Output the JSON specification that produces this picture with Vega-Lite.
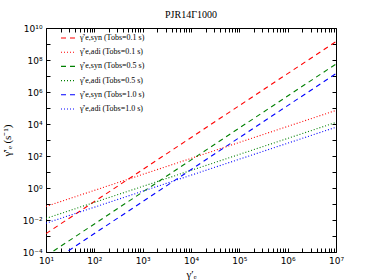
{
  "$schema": "https://vega.github.io/schema/vega-lite/v6.json",
  "width": 290,
  "height": 224,
  "autosize": {"type": "none"},
  "padding": {"left": 46, "top": 28, "right": 38, "bottom": 28},
  "title": {"text": "PJR14Γ1000", "font": "Liberation Serif", "fontSize": 10, "fontWeight": "normal", "offset": 4, "color": "black"},
  "config": {
    "view": {"stroke": "black", "strokeWidth": 1},
    "axis": {
      "domain": false,
      "grid": false,
      "tickColor": "black",
      "tickSize": -4,
      "labelPadding": 8,
      "labelFont": "DejaVu Sans",
      "labelFontSize": 9,
      "labelColor": "black",
      "labelOverlap": false,
      "labelFlush": false,
      "titleFont": "Liberation Serif",
      "titleFontSize": 11,
      "titleFontWeight": "normal",
      "titleColor": "black"
    }
  },
  "data": {
    "values": [
      {"g": 10, "r": 0.001413, "s": "γ̇′e,syn (Tobs=0.1 s)"},
      {"g": 10000000, "r": 1413000000, "s": "γ̇′e,syn (Tobs=0.1 s)"},
      {"g": 10, "r": 0.0708, "s": "γ̇′e,adi (Tobs=0.1 s)"},
      {"g": 10000000, "r": 70800, "s": "γ̇′e,adi (Tobs=0.1 s)"},
      {"g": 10, "r": 0.0000562, "s": "γ̇′e,syn (Tobs=0.5 s)"},
      {"g": 10000000, "r": 56200000, "s": "γ̇′e,syn (Tobs=0.5 s)"},
      {"g": 10, "r": 0.01259, "s": "γ̇′e,adi (Tobs=0.5 s)"},
      {"g": 10000000, "r": 12590, "s": "γ̇′e,adi (Tobs=0.5 s)"},
      {"g": 10, "r": 0.0000141, "s": "γ̇′e,syn (Tobs=1.0 s)"},
      {"g": 10000000, "r": 14100000, "s": "γ̇′e,syn (Tobs=1.0 s)"},
      {"g": 10, "r": 0.00631, "s": "γ̇′e,adi (Tobs=1.0 s)"},
      {"g": 10000000, "r": 6310, "s": "γ̇′e,adi (Tobs=1.0 s)"}
    ]
  },
  "layer": [
    {
      "mark": {"type": "line", "clip": true, "strokeWidth": 1.1},
      "encoding": {
        "x": {
          "field": "g", "type": "quantitative",
          "scale": {"type": "log", "domain": [10, 10000000]},
          "axis": {
            "orient": "bottom",
            "title": "γ′ₑ",
            "titlePadding": 3,
            "values": [10,20,30,40,50,60,70,80,90,100,200,300,400,500,600,700,800,900,1000,2000,3000,4000,5000,6000,7000,8000,9000,10000,20000,30000,40000,50000,60000,70000,80000,90000,100000,200000,300000,400000,500000,600000,700000,800000,900000,1000000,2000000,3000000,4000000,5000000,6000000,7000000,8000000,9000000,10000000],
            "labelExpr": "datum.value==10?'10¹':datum.value==100?'10²':datum.value==1000?'10³':datum.value==10000?'10⁴':datum.value==100000?'10⁵':datum.value==1000000?'10⁶':datum.value==10000000?'10⁷':''"
          }
        },
        "y": {
          "field": "r", "type": "quantitative",
          "scale": {"type": "log", "domain": [0.0001, 10000000000]},
          "axis": {
            "orient": "left",
            "title": "γ̇′ₑ (s⁻¹)",
            "titlePadding": 10,
            "values": [0.0001,0.001,0.01,0.1,1,10,100,1000,10000,100000,1000000,10000000,100000000,1000000000,10000000000],
            "labelExpr": "datum.value==0.0001?'10⁻⁴':datum.value==0.01?'10⁻²':datum.value==1?'10⁰':datum.value==100?'10²':datum.value==10000?'10⁴':datum.value==1000000?'10⁶':datum.value==100000000?'10⁸':datum.value==10000000000?'10¹⁰':''"
          }
        },
        "color": {
          "field": "s", "type": "nominal",
          "scale": {
            "domain": ["γ̇′e,syn (Tobs=0.1 s)", "γ̇′e,adi (Tobs=0.1 s)", "γ̇′e,syn (Tobs=0.5 s)", "γ̇′e,adi (Tobs=0.5 s)", "γ̇′e,syn (Tobs=1.0 s)", "γ̇′e,adi (Tobs=1.0 s)"],
            "range": ["#ff0000", "#ff0000", "#008000", "#008000", "#0000ff", "#0000ff"]
          },
          "legend": {
            "title": null, "orient": "none", "legendX": 14, "legendY": 2,
            "symbolType": "stroke", "symbolSize": 196, "symbolStrokeWidth": 1.1,
            "labelFont": "Liberation Serif", "labelFontSize": 8, "labelColor": "black",
            "labelOffset": 4, "rowPadding": 2.2, "labelLimit": 200
          }
        },
        "strokeDash": {
          "field": "s", "type": "nominal",
          "scale": {
            "domain": ["γ̇′e,syn (Tobs=0.1 s)", "γ̇′e,adi (Tobs=0.1 s)", "γ̇′e,syn (Tobs=0.5 s)", "γ̇′e,adi (Tobs=0.5 s)", "γ̇′e,syn (Tobs=1.0 s)", "γ̇′e,adi (Tobs=1.0 s)"],
            "range": [[5, 4], [1, 2], [5, 4], [1, 2], [5, 4], [1, 2]]
          },
          "legend": {
            "title": null, "orient": "none", "legendX": 14, "legendY": 2,
            "symbolType": "stroke", "symbolSize": 196, "symbolStrokeWidth": 1.1,
            "labelFont": "Liberation Serif", "labelFontSize": 8, "labelColor": "black",
            "labelOffset": 4, "rowPadding": 2.2, "labelLimit": 200
          }
        }
      }
    },
    {
      "mark": {"type": "line", "opacity": 0},
      "encoding": {
        "detail": {"field": "s", "type": "nominal"},
        "x": {
          "field": "g", "type": "quantitative",
          "axis": {
            "orient": "top", "title": null, "labels": false,
            "values": [10,20,30,40,50,60,70,80,90,100,200,300,400,500,600,700,800,900,1000,2000,3000,4000,5000,6000,7000,8000,9000,10000,20000,30000,40000,50000,60000,70000,80000,90000,100000,200000,300000,400000,500000,600000,700000,800000,900000,1000000,2000000,3000000,4000000,5000000,6000000,7000000,8000000,9000000,10000000]
          }
        },
        "y": {
          "field": "r", "type": "quantitative",
          "axis": {
            "orient": "right", "title": null, "labels": false,
            "values": [0.0001,0.001,0.01,0.1,1,10,100,1000,10000,100000,1000000,10000000,100000000,1000000000,10000000000]
          }
        }
      }
    }
  ],
  "resolve": {"axis": {"x": "independent", "y": "independent"}}
}
